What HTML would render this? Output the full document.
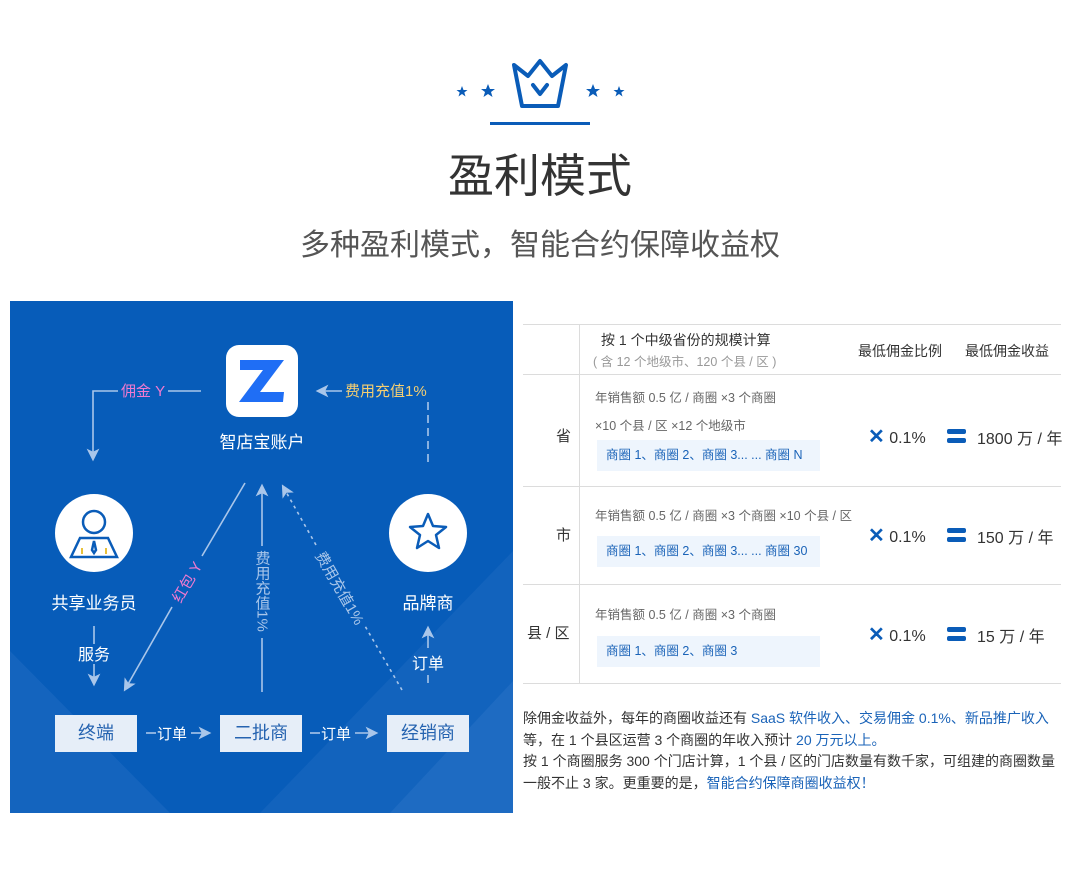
<!DOCTYPE html>
<html><head><meta charset="utf-8"><style>
body{margin:0;width:1080px;height:873px;background:#fff;font-family:"Liberation Sans","Noto Sans CJK SC",sans-serif;position:relative;overflow:hidden}
.a{position:absolute;white-space:nowrap}
.c{transform:translateX(-50%)}
.box{position:absolute;top:715px;width:82px;height:37px;background:#e6eef8;color:#2563b0;font-size:18px;text-align:center;line-height:37px}
.t{color:#333}
.g{color:#666;font-size:12.5px}
.chip{position:absolute;left:597px;width:223px;height:31px;background:#eef5fd;color:#1a63b8;font-size:12.5px;line-height:31px;padding-left:9px;box-sizing:border-box}
.hl{position:absolute;left:523px;width:538px;height:1px;background:#dcdcdc}
</style></head><body>
<svg class="a" style="left:0;top:0" width="1080" height="140">
<g fill="#0a5cb8">
<polygon points="462,86 463.5,90 467.5,90 464.3,92.5 465.5,96.5 462,94 458.5,96.5 459.7,92.5 456.5,90 460.5,90"/>
<polygon points="488,84 490,89 495,89 491,92 492.5,97 488,94 483.5,97 485,92 481,89 486,89"/>
<polygon points="593,84 595,89 600,89 596,92 597.5,97 593,94 588.5,97 590,92 586,89 591,89"/>
<polygon points="619,86 620.5,90 624.5,90 621.3,92.5 622.5,96.5 619,94 615.5,96.5 616.7,92.5 613.5,90 617.5,90"/>
</g>
<path d="M514,65 L528,76 L540,61 L552,76 L566,65 L558,106 L522,106 Z" fill="none" stroke="#0a5cb8" stroke-width="4" stroke-linejoin="round"/>
<path d="M533,85 L540,94 L547,85" fill="none" stroke="#0a5cb8" stroke-width="4" stroke-linecap="round" stroke-linejoin="round"/>
<rect x="490" y="122" width="100" height="3" fill="#0a5cb8"/>
</svg>
<div class="a c" style="left:540px;top:140px;font-size:46px;color:#333">盈利模式</div>
<div class="a c" style="left:540px;top:220px;font-size:30px;color:#555">多种盈利模式，智能合约保障收益权</div>

<div class="a" style="left:10px;top:301px;width:503px;height:512px;background:#075cb9;overflow:hidden">
<svg width="503" height="512" style="position:absolute;left:0;top:0">
<polygon points="0,350 0,512 160,512" fill="#1a68c0" opacity=".7"/>
<polygon points="503,250 503,512 250,512" fill="#1a68c0" opacity=".6"/>
<polygon points="503,380 503,512 380,512" fill="#2a74c8" opacity=".5"/>
</svg>
</div>
<svg class="a" style="left:0;top:0" width="520" height="820">
<defs>
<marker id="ah" markerWidth="8" markerHeight="8" refX="4" refY="4" orient="auto"><path d="M0,0 L8,4 L0,8 L2,4Z" fill="#a9c6ea"/></marker>
</defs>
<rect x="226" y="345" width="72" height="72" rx="13" fill="#fff"/>
<path d="M240,360 L284,360 L260,392 L284,392 L283,402 L239,402 L263,370 L240,370Z" fill="#1f6ef5"/>
<g stroke="#a9c6ea" stroke-width="1.6" fill="none">
<path d="M118,391 L93,391 L93,455" marker-end="url(#ah)"/>
<line x1="168" y1="391" x2="201" y2="391"/>
<line x1="342" y1="391" x2="322" y2="391" marker-end="url(#ah)"/>
<line x1="428" y1="402" x2="428" y2="463" stroke-dasharray="8,5"/>
<line x1="94" y1="626" x2="94" y2="644"/>
<line x1="94" y1="664" x2="94" y2="680" marker-end="url(#ah)"/>
<line x1="428" y1="683" x2="428" y2="675"/>
<line x1="428" y1="648" x2="428" y2="632" marker-end="url(#ah)"/>
<line x1="245" y1="483" x2="202" y2="556"/>
<line x1="172" y1="607" x2="127" y2="686" marker-end="url(#ah)"/>
<line x1="262" y1="692" x2="262" y2="638"/>
<line x1="262" y1="546" x2="262" y2="490" marker-end="url(#ah)"/>
<line x1="402" y1="690" x2="365" y2="626" stroke-dasharray="3,4"/>
<line x1="316" y1="545" x2="285" y2="490" stroke-dasharray="3,4" marker-end="url(#ah)"/>
<line x1="146" y1="733" x2="156" y2="733"/><line x1="191" y1="733" x2="205" y2="733" marker-end="url(#ah)"/>
<line x1="310" y1="733" x2="320" y2="733"/><line x1="355" y1="733" x2="372" y2="733" marker-end="url(#ah)"/>
</g>
<circle cx="94" cy="533" r="39" fill="#fff"/>
<circle cx="428" cy="533" r="39" fill="#fff"/>
<g stroke="#0a5cb8" stroke-width="2.5" fill="none">
<circle cx="94" cy="522" r="11"/>
<path d="M80,538 L71,557 L117,557 L108,538 Z"/>
<path d="M94,541 L92,550 L94,553 L96,550Z"/>
<path d="M428,514 L433,526 L446,527 L436,535 L439,548 L428,541 L417,548 L420,535 L410,527 L423,526Z" stroke-linejoin="round"/>
</g>
<rect x="81" y="548" width="2" height="6" fill="#e8c13a"/><rect x="105" y="548" width="2" height="6" fill="#e8c13a"/>
</svg>
<div class="a" style="left:121px;top:380px;font-size:15px;color:#f07ad0">佣金 Y</div>
<div class="a" style="left:345px;top:380px;font-size:15px;color:#f5cf72">费用充值1%</div>
<div class="a c" style="left:262px;top:428px;font-size:17px;color:#fff">智店宝账户</div>
<div class="a c" style="left:94px;top:589px;font-size:17px;color:#fff">共享业务员</div>
<div class="a c" style="left:428px;top:589px;font-size:17px;color:#fff">品牌商</div>
<div class="a c" style="left:94px;top:641px;font-size:16px;color:#fff">服务</div>
<div class="a c" style="left:428px;top:650px;font-size:16px;color:#fff">订单</div>
<div class="a" style="left:187px;top:582px;font-size:15px;color:#f07ad0;transform:translate(-50%,-50%) rotate(-60deg)">红包 Y</div>
<div class="a" style="left:262px;top:591px;font-size:15px;color:#a9c6ea;writing-mode:vertical-rl;transform:translate(-50%,-50%)">费用充值1%</div>
<div class="a" style="left:340px;top:588px;font-size:15px;color:#a9c6ea;transform:translate(-50%,-50%) rotate(60deg)">费用充值1%</div>
<div class="a" style="left:157px;top:723px;font-size:15px;color:#fff">订单</div>
<div class="a" style="left:321px;top:723px;font-size:15px;color:#fff">订单</div>
<div class="box" style="left:55px">终端</div>
<div class="box" style="left:220px">二批商</div>
<div class="box" style="left:387px">经销商</div>

<div class="hl" style="top:324px"></div><div class="hl" style="top:374px"></div><div class="hl" style="top:486px"></div><div class="hl" style="top:584px"></div><div class="hl" style="top:683px"></div>
<div class="a" style="left:579px;top:324px;width:1px;height:359px;background:#dcdcdc"></div>
<div class="a t" style="left:601px;top:330px;font-size:14px">按 1 个中级省份的规模计算</div>
<div class="a" style="left:593px;top:351px;font-size:12.5px;color:#999">( 含 12 个地级市、120 个县 / 区 )</div>
<div class="a t" style="left:858px;top:341px;font-size:14px">最低佣金比例</div>
<div class="a t" style="left:965px;top:341px;font-size:14px">最低佣金收益</div>
<div class="a t" style="left:556px;top:425px;font-size:15px">省</div>
<div class="a t" style="left:556px;top:524px;font-size:15px">市</div>
<div class="a t" style="left:527px;top:622px;font-size:15px">县 / 区</div>
<div class="a g" style="left:595px;top:387px">年销售额 0.5 亿 / 商圈 ×3 个商圈</div>
<div class="a g" style="left:595px;top:415px">×10 个县 / 区 ×12 个地级市</div>
<div class="chip" style="top:440px">商圈 1、商圈 2、商圈 3... ... 商圈 N</div>
<div class="a g" style="left:595px;top:505px">年销售额 0.5 亿 / 商圈 ×3 个商圈 ×10 个县 / 区</div>
<div class="chip" style="top:536px">商圈 1、商圈 2、商圈 3... ... 商圈 30</div>
<div class="a g" style="left:595px;top:604px">年销售额 0.5 亿 / 商圈 ×3 个商圈</div>
<div class="chip" style="top:636px">商圈 1、商圈 2、商圈 3</div>
<div class="a t" style="left:868px;top:424px;font-size:16px"><b style="color:#0a5cb8;font-size:20px">✕</b> 0.1%</div>
<div class="a t" style="left:868px;top:523px;font-size:16px"><b style="color:#0a5cb8;font-size:20px">✕</b> 0.1%</div>
<div class="a t" style="left:868px;top:622px;font-size:16px"><b style="color:#0a5cb8;font-size:20px">✕</b> 0.1%</div>
<svg class="a" style="left:947px;top:429px" width="20" height="220"><g fill="#0a5cb8"><rect y="0" width="19" height="5" rx="2"/><rect y="9" width="19" height="5" rx="2"/><rect y="99" width="19" height="5" rx="2"/><rect y="108" width="19" height="5" rx="2"/><rect y="198" width="19" height="5" rx="2"/><rect y="207" width="19" height="5" rx="2"/></g></svg>
<div class="a t" style="left:977px;top:425px;font-size:16px">1800 万 / 年</div>
<div class="a t" style="left:977px;top:524px;font-size:16px">150 万 / 年</div>
<div class="a t" style="left:977px;top:623px;font-size:16px">15 万 / 年</div>
<div class="a t" style="left:523px;top:708px;font-size:14px;line-height:21.5px;width:545px;white-space:normal">除佣金收益外，每年的商圈收益还有 <span style="color:#1a63b8">SaaS 软件收入、交易佣金 0.1%、新品推广收入</span> 等，在 1 个县区运营 3 个商圈的年收入预计 <span style="color:#1a63b8">20 万元以上。</span><br>按 1 个商圈服务 300 个门店计算，1 个县 / 区的门店数量有数千家，可组建的商圈数量一般不止 3 家。更重要的是，<span style="color:#1a63b8">智能合约保障商圈收益权！</span></div>
</body></html>
